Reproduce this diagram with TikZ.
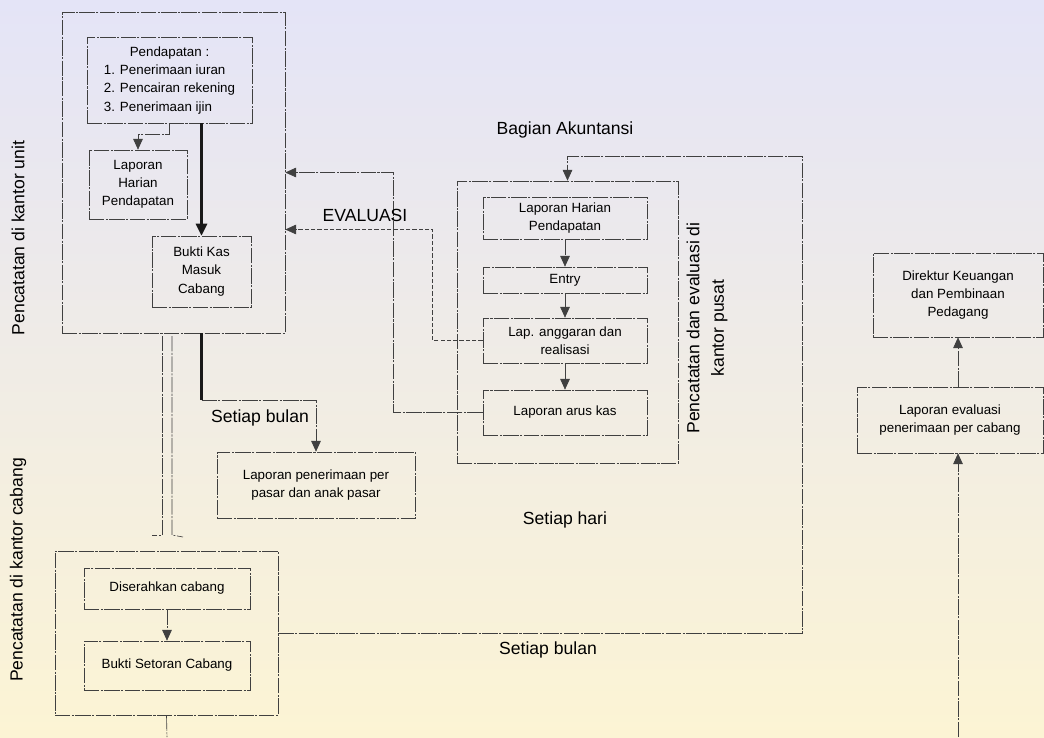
\documentclass[tikz,border=0pt]{standalone}
\usepackage{fontspec}
\setmainfont{Liberation Sans}
\usetikzlibrary{arrows.meta,calc}
\definecolor{bgtop}{RGB}{228,228,247}
\definecolor{bgbot}{RGB}{252,244,212}

\begin{document}
\begin{tikzpicture}[x=0.025cm,y=-0.025cm,
		line/.style={draw=black!75, line width=0.45pt, dash pattern=on 11pt off 1pt on 1.5pt off 1pt},
		boxsize/.style 2 args={minimum width=#1*0.025cm, minimum height=#2*0.025cm},
		frame/.style={line, rectangle, inner sep=0pt},
		box/.style={frame, align=center, font=\fontsize{9.5}{13}\selectfont},
		arr/.style={line, -{Triangle[length=2.7mm,width=2.4mm]}},
		thickline/.style={draw=black!90, line width=1.8pt},
		big/.style={font=\fontsize{12.5}{17.5}\selectfont, align=center}]
			% page and watermark tint
			\useasboundingbox (0,0) rectangle (1044,737);
			\fill[top color=bgtop, middle color=white!50!bgtop, bottom color=bgbot] (0,0) rectangle (1044,737);
			% kantor unit
			\node[frame, boxsize={223}{321}] (unit) at (173.5,172.5) {};
			\node[box, boxsize={165}{86}] (pend) at (169.5,80)
				{\begin{tabular}{@{}l@{}}\multicolumn{1}{@{}c@{}}{Pendapatan :}\\1. Penerimaan iuran\\2. Pencairan rekening\\3. Penerimaan ijin\end{tabular}};
			\node[box, boxsize={98}{69}] (lhp) at (138,184.5) {Laporan\\Harian\\Pendapatan};
			\node[box, boxsize={99}{71}] (bkm) at (201.5,271.5) {Bukti Kas\\Masuk\\Cabang};
			\node[big, rotate=90] (lunit) at (18,238) {Pencatatan di kantor unit};
			\draw[arr] (pend.south) -- ++(0,11) -| (lhp.north);
			\draw[thickline, -{Triangle[length=3mm,width=2.8mm]}] (pend.south -| bkm.north) -- (bkm.north);
			% laporan per pasar
			\node[box, boxsize={198}{66}] (lpp) at (316,485) {Laporan penerimaan per\\pasar dan anak pasar};
			\draw[thickline] (unit.south -| bkm.south) -- ++(0,67) coordinate (bend);
			\draw[arr] (bend) -| (lpp.north);
			\node[big] (lbulan) at (260,418) {Setiap bulan};
			% kantor pusat
			\node[big] (lakun) at (565,130) {Bagian Akuntansi};
			\node[frame, boxsize={221}{282}] (pusat) at (567.5,322) {};
			\node[box, boxsize={164}{42}] (plhp) at (565,218) {Laporan Harian\\Pendapatan};
			\node[box, boxsize={164}{26}] (entry) at (565,280) {Entry};
			\node[box, boxsize={164}{45}] (lar) at (565,340.5) {Lap. anggaran dan\\realisasi};
			\node[box, boxsize={164}{45}] (lak) at (565,412.5) {Laporan arus kas};
			\node[big, rotate=90] (lpusat) at (707,328) {Pencatatan dan evaluasi di\\kantor pusat};
			\node[big] (lhari) at (565,520) {Setiap hari};
			\draw[arr] (plhp) -- (entry);
			\draw[arr] (entry) -- (lar);
			\draw[arr] (lar) -- (lak);
			% evaluasi back to unit
			\draw[arr] (lak.west) -- ++(-89,0) |- (unit.east);
			\draw[arr, dash pattern=on 3pt off 1.5pt] (lar.west) -- ++(-50,0) |- ($(unit.east)+(0,57)$);
			\node[big] (leval) at (365,215) {EVALUASI};
			% kantor cabang
			\node[frame, boxsize={223}{164}] (cab) at (166.5,633) {};
			\node[box, boxsize={166}{41}] (dis) at (167,588.5) {Diserahkan cabang};
			\node[box, boxsize={166}{49}] (bsc) at (167,665.5) {Bukti Setoran Cabang};
			\node[big, rotate=90] (lcab) at (18,570) {Pencatatan di kantor cabang};
			\draw[arr] (dis) -- (bsc);
			\draw[line] (162,336) -- (162,535) -- (152,535);
			\draw[line] (172,336) -- (172,535) -- (183,537);
			% cabang to pusat every month
			\coordinate (loopcorner) at (802,156);
			\draw[arr] (cab.east) -| (loopcorner) -| (pusat.north);
			\node[big] (lbulan2) at (548,650) {Setiap bulan};
			\coordinate (cabout) at (167,737);
			\draw[line] (cab.south) -- (cabout);
			% direktur
			\node[box, boxsize={170}{84}] (dir) at (958,295) {Direktur Keuangan\\dan Pembinaan\\Pedagang};
			\node[box, boxsize={186}{66}] (lev) at (950,420) {Laporan evaluasi\\penerimaan per cabang};
			\coordinate (evin) at (958,737);
			\draw[arr] (dir.south |- lev.north) -- (dir.south);
			\draw[arr] (evin) -- (evin |- lev.south);
		\end{tikzpicture}
\end{document}
